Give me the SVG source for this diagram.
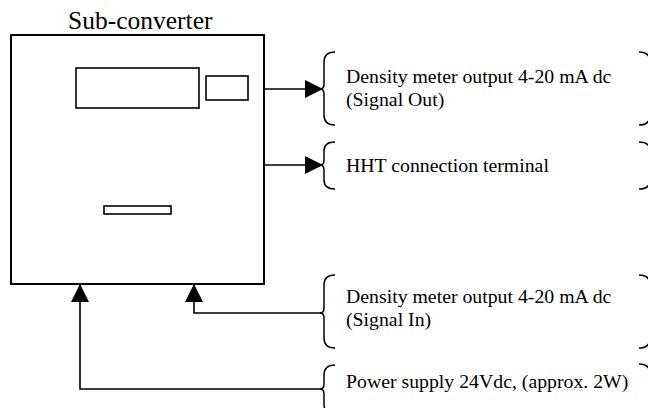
<svg xmlns="http://www.w3.org/2000/svg" width="648" height="408" viewBox="0 0 648 408">
<style>
.box{fill:#fff;stroke:#000;stroke-width:2}
.part{fill:#fff;stroke:#000;stroke-width:1.6}
.conn{fill:none;stroke:#000;stroke-width:1.6}
.brace{fill:none;stroke:#000;stroke-width:1.5}
.lbl{font-family:"Liberation Serif","Times New Roman",serif;font-size:19.8px;fill:#000}
.title{font-family:"Liberation Serif","Times New Roman",serif;font-size:25.5px;fill:#000}
</style>
<defs>
<marker id="ah" markerUnits="userSpaceOnUse" markerWidth="18" markerHeight="18" refX="18" refY="9" orient="auto">
<path d="M0,0 L18,9 L0,18 Z" fill="#000"/>
</marker>
</defs>
<rect width="648" height="408" fill="#fff"/>
<g id="subconverter">
<text class="title" x="68" y="29">Sub-converter</text>
<rect class="box" x="11" y="35" width="253" height="249"/>
<rect class="part" x="76" y="68" width="123" height="40"/>
<rect class="part" x="206" y="76" width="42" height="24"/>
<rect class="part" x="104" y="206" width="67" height="8"/>
</g>
<g id="signal-out">
<path class="brace" d="M335,52 Q324,52 324,62 L324,84 Q324,89 320,89 Q324,89 324,94 L324,115 Q324,125 335,125"/>
<path class="brace" d="M639,52 Q650,52 650,62 L650,115 Q650,125 639,125"/>
<text class="lbl" x="346" y="83">Density meter output 4-20 mA dc</text>
<text class="lbl" x="346" y="106">(Signal Out)</text>
</g>
<g id="hht">
<path class="brace" d="M335,142 Q324,142 324,151 L324,160 Q324,165 320,165 Q324,165 324,170 L324,180 Q324,189 335,189"/>
<path class="brace" d="M639,142 Q650,142 650,151 L650,180 Q650,189 639,189"/>
<text class="lbl" x="346" y="172">HHT connection terminal</text>
</g>
<g id="signal-in">
<path class="brace" d="M335,275 Q324,275 324,285 L324,308 Q324,313 320,313 Q324,313 324,318 L324,338 Q324,348 335,348"/>
<path class="brace" d="M639,275 Q650,275 650,285 L650,338 Q650,348 639,348"/>
<text class="lbl" x="346" y="303">Density meter output 4-20 mA dc</text>
<text class="lbl" x="346" y="326">(Signal In)</text>
</g>
<g id="power">
<path class="brace" d="M335,365 Q324,365 324,375 L324,384 Q324,389 320,389 Q324,389 324,394 L324,404 Q324,414 335,414"/>
<path class="brace" d="M639,364 Q650,364 650,374 L650,408"/>
<text class="lbl" x="346" y="388">Power supply 24Vdc, (approx. 2W)</text>
</g>
<g id="connectors">
<path class="conn" d="M264,89 L323,89" marker-end="url(#ah)"/>
<path class="conn" d="M264,165 L323,165" marker-end="url(#ah)"/>
<path class="conn" d="M322,313 L194,313 L194,284" marker-end="url(#ah)"/>
<path class="conn" d="M322,389 L80,389 L80,284" marker-end="url(#ah)"/>
</g>
</svg>
